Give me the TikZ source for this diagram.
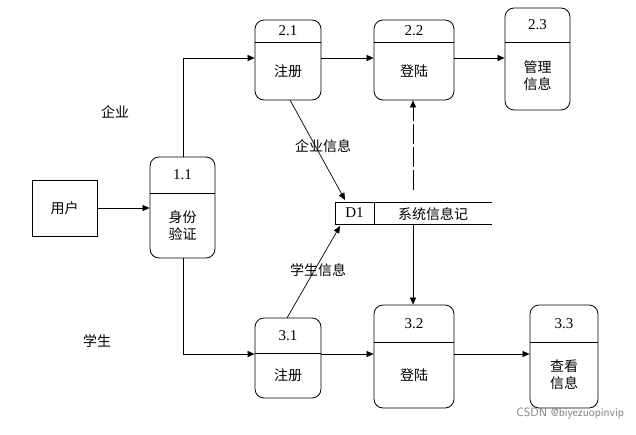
\documentclass[tikz,border=0pt]{standalone}
\usepackage{fontspec}
\setmainfont{Liberation Serif}
\newfontfamily\cjk{Noto Sans CJK SC}
\usetikzlibrary{arrows.meta}
\begin{document}
\begin{tikzpicture}[x=1pt,y=-1pt,
  proc/.style={draw,rounded corners=9pt,inner sep=0pt,line width=0.8pt},
  lbl/.style={font=\cjk\fontsize{14}{17}\selectfont,inner sep=0pt,align=center},
  num/.style={font=\fontsize{15}{17}\selectfont,inner sep=0pt},
  arr/.style={-{Triangle[length=7pt,width=6pt]},line width=0.7pt}]
\useasboundingbox (0,0) rectangle (636,434);
\fill[white] (0,0) rectangle (636,434);
\newcommand\mkproc[8]{%
  \node[proc,minimum width=#4-#2,minimum height=#5-#3] (#1) at ({(#2+#4)/2},{(#3+#5)/2}) {};
  \draw[line width=0.8pt] (#2,#6) -- (#4,#6);
  \node[num] at ({(#2+#4)/2},{(#3+#6)/2}) {#7};
  \node[lbl] at ({(#2+#4)/2},{(#6+#5)/2}) {#8};}
\mkproc{p11}{150}{157}{215}{258}{193}{1.1}{身份\\验证}
\mkproc{p21}{255}{20}{321}{100}{42}{2.1}{注册}
\mkproc{p22}{374}{20}{454}{100}{42}{2.2}{登陆}
\mkproc{p23}{505}{8}{570}{110}{42}{2.3}{管理\\信息}
\mkproc{p31}{255}{318}{321}{398}{353}{3.1}{注册}
\mkproc{p32}{374}{305}{454}{408}{342}{3.2}{登陆}
\mkproc{p33}{530}{305}{598}{408}{342}{3.3}{查看\\信息}
\node[draw,line width=0.8pt,minimum width=65,minimum height=56,lbl] (user) at (64.5,208) {用户};
\draw[line width=0.8pt] (492,202) -- (335,202) -- (335,224) -- (492,224);
\draw[line width=0.8pt] (374,202) -- (374,224);
\node[num] at (354.5,213) {D1};
\node[lbl] at (433,214) {系统信息记};
\coordinate (dstore1) at (345,200);
\coordinate (dstore2) at (340,226);
\coordinate (dtop) at (413,190);
\coordinate (dbot) at (413,224);
\draw[arr] (user.east |- 0,208) -- (p11.west |- 0,208);
\draw[arr] (183,157) -- (183,58) -- (p21.west |- 0,58);
\draw[arr] (183,258) -- (183,354) -- (p31.west |- 0,354);
\draw[arr] (p21.east |- 0,58) -- (p22.west |- 0,58);
\draw[arr] (p22.east |- 0,58) -- (p23.west |- 0,58);
\draw[arr] (p31.east |- 0,354) -- (p32.west |- 0,354);
\draw[arr] (p32.east |- 0,354) -- (p33.west |- 0,354);
\draw[arr] (290,100) -- (dstore1);
\draw[arr] (287,318) -- (dstore2);
\draw[arr] (dbot) -- (p32.north -| 413,0);
\draw[arr,dash pattern=on 20pt off 3pt] (dtop) -- (p22.south -| 413,0);
\node[lbl] at (115,112) {企业};
\node[lbl] at (97,341) {学生};
\node[lbl] at (323,146) {企业信息};
\node[lbl] at (318,270) {学生信息};
\node[font=\sffamily\fontsize{12}{14}\selectfont,text=gray,anchor=east,inner sep=0pt] at (624,413) {CSDN @biyezuopinvip};
\end{tikzpicture}
\end{document}
